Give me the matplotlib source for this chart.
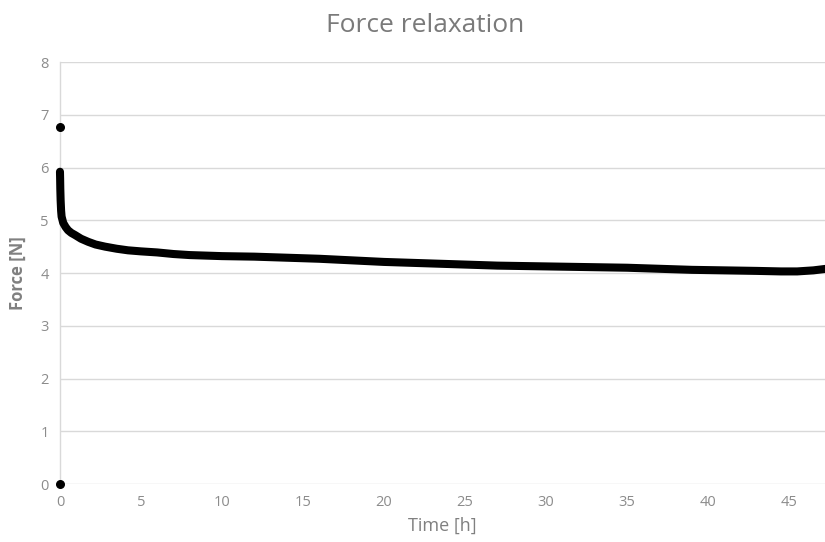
import matplotlib
matplotlib.use("Agg")
import matplotlib.pyplot as plt

# Main relaxation curve
time_h = [0.0, 0.01, 0.02, 0.04, 0.07, 0.1, 0.2, 0.35, 0.5, 0.7, 0.93, 1.3, 1.75,
          2.2, 2.78, 3.5, 4.2, 5.0, 6.0, 7.0, 8.0, 9.0, 10.0, 12.0, 14.0, 15.0,
          16.0, 18.0, 20.0, 21.0, 23.0, 25.0, 27.0, 29.0, 31.0, 33.0, 35.0, 37.0,
          39.0, 41.0, 43.0, 44.5, 45.5, 46.5, 47.3]
force_n = [5.92, 5.78, 5.60, 5.38, 5.18, 5.07, 4.95, 4.87, 4.81, 4.76, 4.72, 4.65, 4.59,
           4.54, 4.50, 4.46, 4.43, 4.41, 4.39, 4.36, 4.34, 4.33, 4.32, 4.31, 4.29, 4.28,
           4.27, 4.24, 4.21, 4.20, 4.18, 4.16, 4.14, 4.13, 4.12, 4.11, 4.10, 4.08,
           4.06, 4.05, 4.04, 4.03, 4.03, 4.05, 4.08]

# Isolated points at t = 0
outlier_t = [0.0, 0.0]
outlier_f = [6.76, 0.0]

x_ticks = [0, 5, 10, 15, 20, 25, 30, 35, 40, 45]
y_ticks = [0, 1, 2, 3, 4, 5, 6, 7, 8]

plt.rcParams['font.family'] = ['Open Sans', 'DejaVu Sans']

fig = plt.figure(figsize=(8.25, 5.42), dpi=100)
ax = fig.add_axes([0.0727, 0.107, 0.927, 0.7786])

ax.plot(time_h, force_n, color='black', lw=5.8, solid_capstyle='round',
        solid_joinstyle='round', zorder=3, clip_on=False)
ax.scatter(outlier_t, outlier_f, s=30, color='black', zorder=4, clip_on=False)

ax.set_xlim(0, 47.2)
ax.set_ylim(0, 8)
ax.set_xticks(x_ticks)
ax.set_yticks(y_ticks)
ax.tick_params(length=0, labelsize=10.5, colors='#8c8c8c', pad=8)
ax.grid(axis='y', color='#d9d9d9', lw=1)
ax.set_axisbelow(True)
for s in ['top', 'right', 'bottom']:
    ax.spines[s].set_visible(False)
ax.spines['left'].set_color('#d9d9d9')
ax.spines['left'].set_linewidth(1)

ax.set_xlabel('Time [h]', fontsize=13, color='#808080', labelpad=5)
ax.set_ylabel('Force [N]', fontsize=12, color='#808080', fontweight='bold', labelpad=10)
fig.text(0.515, 0.953, 'Force relaxation', ha='center', va='center',
         fontsize=19, color='#7a7a7a')

fig.savefig('out.png', dpi=100)
